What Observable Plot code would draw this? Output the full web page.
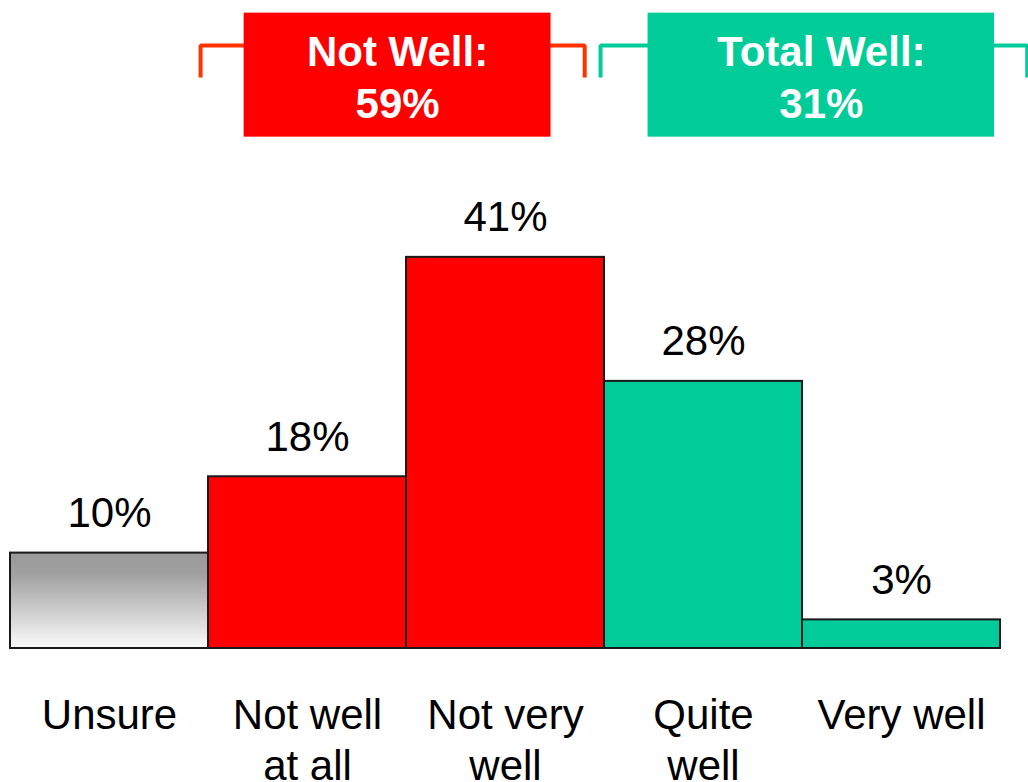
<!DOCTYPE html>
<html>
<head>
<meta charset="utf-8">
<script src="https://cdn.jsdelivr.net/npm/d3@7"></script>
<script src="https://cdn.jsdelivr.net/npm/@observablehq/plot@0.6"></script>
<style>
  html, body { margin: 0; padding: 0; background: #fff; }
  #chart { width: 1028px; height: 782px; overflow: hidden; }
</style>
</head>
<body>
<div id="chart"></div>
<script>
// ---- Data ----
const categories = ["Unsure", "Not well\nat all", "Not very\nwell", "Quite\nwell", "Very well"];
const values = [10, 18, 41, 28, 3];
const categoryGroup = ["Unsure", "Not Well", "Not Well", "Total Well", "Total Well"];
const groupNames = ["Not Well", "Total Well"];
const groupTotals = [59, 31];

// ---- Layout / style constants ----
const FONT = "'Liberation Sans', Arial, Helvetica, sans-serif";
const groupColor = {"Unsure": "url(#unsureGrad)", "Not Well": "#ff0000", "Total Well": "#00cc99"};
const boxColor = {"Not Well": "#ff0000", "Total Well": "#00cc99"};
const bracketColor = {"Not Well": "#ff3300", "Total Well": "#00cc99"};
const boxSpan = {"Not Well": [1.18, 2.73], "Total Well": [3.22, 4.97]};
const bracketSpan = {"Not Well": [0.96, 2.9], "Total Well": [2.98, 5.135]};
const boxY = [53.6, 66.6];
const bracketY = [59.85, 63.2];
const headerTextY = 60.1;

const bars = categories.map((c, i) => ({category: c, value: values[i], group: categoryGroup[i], i}));
const header = groupNames.map((g, j) => ({group: g, total: groupTotals[j]}));
const brackets = header.flatMap(h => {
  const [a, b] = bracketSpan[h.group];
  return [
    {group: h.group, x: a, y: bracketY[0]},
    {group: h.group, x: a, y: bracketY[1]},
    {group: h.group, x: b, y: bracketY[1]},
    {group: h.group, x: b, y: bracketY[0]}
  ];
});

const chart = Plot.plot({
  width: 1028,
  height: 782,
  marginTop: 0,
  marginBottom: 134,
  marginLeft: 10,
  marginRight: 28,
  x: {type: "linear", domain: [0, 5], axis: null},
  y: {domain: [0, 648 / 9.54], axis: null},
  style: {fontFamily: FONT, background: "#fff", overflow: "visible"},
  marks: [
    // header brackets
    Plot.line(brackets, {x: "x", y: "y", z: "group", stroke: d => bracketColor[d.group], strokeWidth: 4, strokeLinejoin: "miter", strokeLinecap: "butt"}),
    // header boxes
    Plot.rect(header, {x1: d => boxSpan[d.group][0], x2: d => boxSpan[d.group][1], y1: boxY[0], y2: boxY[1], fill: d => boxColor[d.group]}),
    Plot.text(header, {
      x: d => (boxSpan[d.group][0] + boxSpan[d.group][1]) / 2,
      y: headerTextY,
      text: d => `${d.group}:\n${d.total}%`,
      fill: "#fff", fontWeight: "bold", fontSize: 42, lineHeight: 1.23, lineAnchor: "middle"
    }),
    // bars
    Plot.rect(bars, {x1: d => d.i, x2: d => d.i + 1, y1: 0, y2: "value", fill: d => groupColor[d.group], stroke: "#1a1a1a", strokeWidth: 2}),
    // value labels
    Plot.text(bars, {x: d => d.i + 0.5, y: "value", text: d => `${d.value}%`, lineAnchor: "bottom", dy: -26, fontSize: 42, fill: "#000"}),
    // category labels
    Plot.text(bars, {x: d => d.i + 0.5, y: 0, text: "category", lineAnchor: "top", dy: 45, fontSize: 42, lineHeight: 1.2, fill: "#000"})
  ]
});

// gradient for "Unsure"
const ns = "http://www.w3.org/2000/svg";
const defs = document.createElementNS(ns, "defs");
const grad = document.createElementNS(ns, "linearGradient");
grad.setAttribute("id", "unsureGrad");
grad.setAttribute("x1", "0"); grad.setAttribute("y1", "0");
grad.setAttribute("x2", "0"); grad.setAttribute("y2", "1");
[["0%", "#999999"], ["22%", "#a0a0a0"], ["100%", "#fbfbfb"]].forEach(([o, c]) => {
  const s = document.createElementNS(ns, "stop");
  s.setAttribute("offset", o); s.setAttribute("stop-color", c);
  grad.appendChild(s);
});
defs.appendChild(grad);
chart.insertBefore(defs, chart.firstChild);

document.getElementById("chart").appendChild(chart);
</script>
</body>
</html>
